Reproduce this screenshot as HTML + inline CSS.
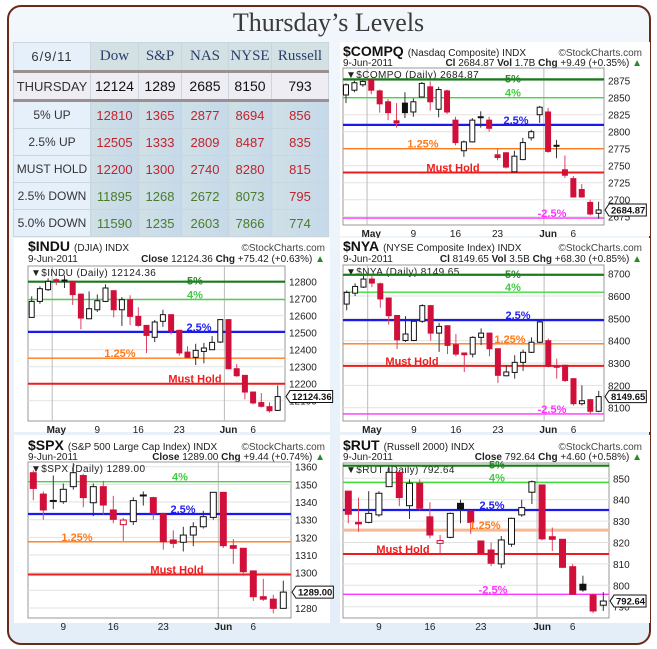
<!DOCTYPE html>
<html><head><meta charset="utf-8">
<style>
body{margin:0;width:657px;height:649px;overflow:hidden;background:#fff;font-family:"Liberation Sans",sans-serif;}
#frame{position:absolute;left:7px;top:5px;width:640px;height:636px;border:2px solid #6a2a1a;border-radius:14px;background:linear-gradient(#f2f7fc,#e4eef8);}
#title{position:absolute;left:0;top:8px;width:657px;text-align:center;font-family:"Liberation Serif",serif;font-size:26px;color:#3a3a3a;}
table{position:absolute;left:13px;top:42px;border-collapse:collapse;font-size:13px;table-layout:fixed;width:315px;}
td{border:1px solid #c9d6de;text-align:center;padding:0;white-space:nowrap;overflow:hidden;}
.lab{background:#e6f0fb;color:#333;font-size:12px;}
.hd td{height:27px;background:#d3e1e4;font-family:"Liberation Serif",serif;font-size:15px;color:#2c3e6a;}
.hd td.lab{background:#e6f0fb;font-family:"Liberation Sans",sans-serif;font-size:13px;color:#333;letter-spacing:1px;}
.th td{height:26px;background:#efedf4;color:#111;font-size:14px;border-top:3px solid #9a9090;border-bottom:3px solid #9a9090;}
.th td.lab{font-size:13px;color:#333;}
.r td{height:26px;background:linear-gradient(90deg,#cfe0e6,#c6d9ea);}
.r td.lab{background:#e6f0fb;}
.red{color:#c0242c;}.grn{color:#4b7b2b;}
#svg{position:absolute;left:0;top:0;}
</style></head>
<body>
<div id="frame"></div>
<svg id="svg" width="657" height="649"></svg>
<div id="title">Thursday’s Levels</div>
<table>
<colgroup><col style="width:77px"><col style="width:48px"><col style="width:43px"><col style="width:47px"><col style="width:43px"><col style="width:57px"></colgroup>
<tr class="hd"><td class="lab">6/9/11</td><td>Dow</td><td>S&amp;P</td><td>NAS</td><td>NYSE</td><td>Russell</td></tr>
<tr class="th"><td class="lab">THURSDAY</td><td>12124</td><td>1289</td><td>2685</td><td>8150</td><td>793</td></tr>
<tr class="r"><td class="lab">5% UP</td><td class="red">12810</td><td class="red">1365</td><td class="red">2877</td><td class="red">8694</td><td class="red">856</td></tr>
<tr class="r"><td class="lab">2.5% UP</td><td class="red">12505</td><td class="red">1333</td><td class="red">2809</td><td class="red">8487</td><td class="red">835</td></tr>
<tr class="r"><td class="lab">MUST HOLD</td><td class="red">12200</td><td class="red">1300</td><td class="red">2740</td><td class="red">8280</td><td class="red">815</td></tr>
<tr class="r"><td class="lab">2.5% DOWN</td><td class="grn">11895</td><td class="grn">1268</td><td class="grn">2672</td><td class="grn">8073</td><td class="red">795</td></tr>
<tr class="r"><td class="lab">5.0% DOWN</td><td class="grn">11590</td><td class="grn">1235</td><td class="grn">2603</td><td class="grn">7866</td><td class="grn">774</td></tr>
</table>
<script>
// ===== DATA =====
const weekLabelsA = ['May','9','16','23','Jun','6'];
const weekIdxA = [3,8,13,18,24,27];
const weekLabelsB = ['9','16','23','Jun','6'];
const weekIdxB = [3,8,13,19,22];

const compqOpen  = [2854,2861,2869,2877,2860,2844,2816,2842,2829,2851,2866,2833,2860,2817,2772,2785,2821,2817,2766,2769,2741,2759,2791,2825,2829,2780,2744,2731,2715,2696,2680];
const compqHigh  = [2871,2875,2876,2878,2862,2848,2842,2858,2849,2873,2874,2866,2862,2822,2787,2820,2830,2822,2775,2770,2772,2791,2803,2838,2835,2788,2765,2735,2723,2700,2697];
const compqLow   = [2842,2858,2866,2855,2828,2817,2806,2820,2822,2850,2831,2821,2826,2780,2763,2784,2806,2800,2758,2746,2741,2758,2787,2813,2769,2761,2732,2704,2703,2677,2672];
const compqClose = [2869,2872,2874,2861,2841,2828,2813,2828,2844,2871,2844,2862,2829,2784,2785,2817,2822,2805,2762,2748,2764,2784,2800,2836,2771,2779,2736,2704,2704,2679,2684.87];
const compqLevels = [2877,2850,2810,2775,2740,2673];
const compqLevelNames = ['5%','4%','2.5%','1.25%','Must Hold','-2.5%'];
const compqTicks = [2675,2700,2725,2750,2775,2800,2825,2850,2875];

const induOpen  = [12590,12684,12753,12812,12810,12802,12727,12582,12635,12684,12747,12635,12694,12596,12543,12473,12567,12606,12514,12386,12355,12390,12400,12445,12577,12288,12249,12151,12089,12065,12043];
const induHigh  = [12714,12773,12820,12820,12837,12804,12730,12743,12725,12784,12750,12710,12720,12650,12545,12575,12635,12608,12518,12420,12435,12440,12480,12580,12580,12315,12250,12150,12145,12090,12190];
const induLow   = [12590,12670,12745,12780,12763,12663,12520,12580,12622,12680,12590,12540,12545,12535,12380,12445,12535,12490,12365,12350,12310,12320,12400,12440,12285,12240,12108,12078,12060,12030,12040];
const induClose = [12684,12759,12802,12802,12805,12724,12586,12641,12688,12763,12635,12694,12596,12543,12484,12563,12606,12512,12381,12355,12396,12410,12443,12577,12288,12247,12151,12087,12067,12041,12124.36];
const induLevels = [12800,12695,12505,12350,12200];
const induLevelNames = ['5%','4%','2.5%','1.25%','Must Hold'];
const induTicks = [12100,12200,12300,12400,12500,12600,12700,12800];

const nyaOpen  = [8564,8613,8640,8676,8655,8591,8513,8401,8401,8487,8557,8434,8467,8382,8345,8340,8415,8434,8364,8243,8258,8303,8348,8393,8400,8287,8290,8230,8118,8136,8084];
const nyaHigh  = [8625,8657,8690,8693,8660,8594,8515,8510,8492,8563,8560,8480,8470,8430,8345,8420,8455,8436,8366,8290,8335,8360,8415,8490,8410,8320,8292,8232,8200,8140,8175];
const nyaLow   = [8536,8600,8636,8640,8548,8472,8363,8395,8398,8480,8400,8350,8340,8330,8260,8325,8380,8330,8210,8240,8230,8265,8345,8390,8280,8230,8215,8110,8110,8070,8080];
const nyaClose = [8616,8643,8676,8658,8587,8512,8404,8430,8487,8557,8434,8464,8379,8340,8337,8415,8434,8364,8245,8260,8303,8348,8393,8484,8285,8281,8222,8118,8131,8084,8149.65];
const nyaLevels = [8695,8617,8492,8386,8287,8072];
const nyaLevelNames = ['5%','4%','2.5%','1.25%','Must Hold','-2.5%'];
const nyaTicks = [8100,8200,8300,8400,8500,8600,8700];

const spxOpen  = [1356.6,1344.5,1340.9,1340.2,1348.7,1355,1339.6,1348.7,1335.5,1327.2,1328.9,1344,1342.5,1333.2,1318.5,1317.2,1321.3,1326,1331.3,1345.5,1315.3,1313.8,1301,1286.4,1285,1279.8];
const spxHigh  = [1358,1346,1355,1350.5,1362,1356,1350.5,1352,1343.5,1331,1342.7,1346,1343,1334,1324,1326,1328.6,1335,1345.5,1345.6,1319,1314,1301,1296.5,1287.5,1295.5];
const spxLow   = [1341,1330,1336,1339,1347,1337,1332,1333,1328,1318,1327,1338,1330,1313,1314,1312,1315,1325,1330,1314,1305,1298,1284,1284,1277,1279.8];
const spxClose = [1347.7,1335.5,1340.5,1347.2,1356.6,1342.5,1348.7,1338.3,1330.2,1329.8,1340.8,1343.6,1333.6,1317.5,1316.6,1321.3,1326,1331.7,1345.5,1315.3,1313.8,1300.6,1286.4,1285,1279.8,1289.0];
const spxLevels = [1351.5,1333.2,1317.5,1299];
const spxLevelNames = ['4%','2.5%','1.25%','Must Hold'];
const spxTicks = [1280,1290,1300,1310,1320,1330,1340,1350,1360];

const rutOpen  = [844,829.4,829.4,832.9,846.1,852.8,837.2,847.7,832,819.6,822.4,838.3,834.7,820.7,816.5,810,819.2,832.9,843.5,846.9,822.7,821.5,808.7,800.5,795.5,790.7];
const rutHigh  = [844,841,844,844,855,853,849.5,849.5,838.8,823.5,834,840,835,820.7,820,823,831.6,840,849,847,827,821.5,810,804.5,796,796.8];
const rutLow   = [829,825,829,832,846,837,831,835,822,815,822,829,824,815,809,808,818,832,838,821,816,808,795.8,797,787,788];
const rutClose = [833.2,828.7,833.6,843,852.8,841,847.7,836,823.5,820.9,833.6,835.7,829.4,815,810.3,821.2,831.3,836.3,848.4,821.7,821.5,808.4,795.8,797.8,788,792.64];
const rutLevels = [855.9,848.1,835.2,825.8,814.6,795.8];
const rutLevelNames = ['5%','4%','2.5%','1.25%','Must Hold','-2.5%'];
const rutTicks = [790,800,810,820,830,840,850];

// ===== DRAWING =====
const NS='http://www.w3.org/2000/svg';
const svg=document.getElementById('svg');
function mk(tag,attrs,parent){const e=document.createElementNS(NS,tag);for(const k in attrs)e.setAttribute(k,attrs[k]);parent.appendChild(e);return e;}
const LC={'5%':'#1a7a1a','4%':'#3ddc3d','2.5%':'#1a1aee','1.25%':'#ff7a1a','Must Hold':'#ee1c1c','-2.5%':'#ff33ff'};
const LT={'5%':'#2a8a2a','4%':'#44cc44','2.5%':'#2222ee','1.25%':'#ff7a1a','Must Hold':'#ee1c1c','-2.5%':'#ff33ff'};
const LW={'5%':2.2,'4%':1.4,'2.5%':2.2,'1.25%':1.4,'Must Hold':2,'-2.5%':1.4};

function drawChart(c){
  const g=mk('g',{},svg);
  
  
  const panel=mk('rect',{x:c.px,y:c.py,width:c.pw,height:c.ph,fill:'#fff'},g);
  
  
  const y=p=>c.yHi+(c.pHi-p)*(c.yLo-c.yHi)/(c.pHi-c.pLo);
  const x=i=>c.x0+i*c.step;
  // header
  const t1=mk('text',{x:c.L,y:c.t1y,'font-size':14,'font-weight':'bold',fill:'#111'},g);
  t1.textContent=c.sym;
  
  
  const sw=t1.getComputedTextLength();
  const t1b=mk('text',{x:c.L+sw+4,y:c.t1y,'font-size':10,fill:'#222'},g);
  t1b.textContent=c.desc;
  
  
  const sc=mk('text',{x:c.R+c.axW,y:c.t1y,'font-size':10,fill:'#444','text-anchor':'end'},g);
  sc.textContent='©StockCharts.com';
  
  
  const d=mk('text',{x:c.L,y:c.t2y,'font-size':10,fill:'#222'},g);
  d.textContent='9-Jun-2011';
  
  
  const st=mk('text',{x:c.R+c.axW,y:c.t2y,'font-size':10,fill:'#222','text-anchor':'end'},g);
  st.innerHTML=c.stats+' <tspan fill="#2a8a2a">▲</tspan>';
  
  
  // plot
  const pl=mk('rect',{x:c.L,y:c.T,width:c.R-c.L,height:c.B-c.T,fill:'#fff',stroke:'#999','stroke-width':1},g);
  
  
  c.ticks.forEach(v=>{
    const ty=y(v);
    const gl=mk('line',{x1:c.L,x2:c.R,y1:ty,y2:ty,stroke:'#e2e2e2','stroke-width':1},g);
    
    
    const tl=mk('text',{x:c.R+4,y:ty+4,'font-size':10,fill:'#222'},g);
    tl.textContent=v;
    
    
  });
  c.xIdx.forEach((ix,k)=>{
    const lab=c.xLab[k];
    if(lab==='May'||lab==='Jun'){
      const vl=mk('line',{x1:x(ix)-c.step/2,x2:x(ix)-c.step/2,y1:c.T,y2:c.B,stroke:'#bbb','stroke-width':1},g);
      
      
    }
    const xl=mk('text',{x:x(ix),y:c.B+12,'font-size':10,fill:'#222','text-anchor':'middle','font-weight':(lab==='May'||lab==='Jun')?'bold':'normal'},g);
    xl.textContent=lab;
    
    
  });
  const il=mk('text',{x:c.L+3,y:c.T+10,'font-size':10,fill:'#222','letter-spacing':'0.4'},g);
  il.textContent='▼'+c.sym+' (Daily) '+c.close[c.close.length-1].toFixed(2);
  
  
  const clipId='clip-'+c.name;
  const cp=mk('clipPath',{id:clipId},g);mk('rect',{x:c.L,y:c.T,width:c.R-c.L,height:c.B-c.T},cp);
  const cg=mk('g',{'clip-path':'url(#'+clipId+')'},g);
  // levels
  c.levels.forEach((v,k)=>{
    const nm=c.levelNames[k];const ly=y(v);
    let col=LC[nm];if(c.name==='rut'&&nm==='1.25%')col='#f8b892';
    const ln=mk('line',{x1:c.L,x2:c.R,y1:ly,y2:ly,stroke:col,'stroke-width':(c.name==='rut'&&nm==='1.25%')?3:LW[nm]},cg);
    
    
  });
  // candles
  const bw=c.bw;
  for(let i=0;i<c.close.length;i++){
    const o=c.open[i],h=c.high[i],l=c.low[i],cl=c.close[i];
    const prev=i>0?c.close[i-1]:o;
    let fill,stroke;
    if(cl>=o){fill='#fff';stroke=cl<prev?'#d0103a':'#111';}
    else if(cl>prev){fill='#111';stroke='#111';}
    else {fill='#d0103a';stroke='#d0103a';}
    const cx=x(i);
    const wk=mk('line',{x1:cx,x2:cx,y1:y(h),y2:y(l),stroke:stroke==='#111'?'#333':'#e04060','stroke-width':1},cg);
    
    
    const top=y(Math.max(o,cl)),bot=y(Math.min(o,cl));
    const bd=mk('rect',{x:cx-bw/2,y:top,width:bw,height:Math.max(1,bot-top),fill:fill,stroke:stroke,'stroke-width':1},cg);
    
    
  }
  // level labels
  c.levels.forEach((v,k)=>{
    const nm=c.levelNames[k];
    const lt=mk('text',{x:c.lx[k],y:y(v)+(k===0&&nm==='5%'?3:-1),'font-size':11,'font-weight':'bold',fill:LT[nm],'text-anchor':'middle'},g);
    lt.textContent=nm;
    
    
  });
  // price tag
  const last=c.close[c.close.length-1],py=y(last);
  const pg=mk('polygon',{points:'0,0'},g);
  
  
  const pt=mk('text',{x:c.R+7,y:py+3.5,'font-size':9.5,'font-weight':'bold',fill:'#111'},g);
  pt.textContent=last.toFixed(2);
  
  
  const tw=pt.getComputedTextLength()+3;
  pg.setAttribute('points',`${c.R+1},${py} ${c.R+5},${py-6} ${c.R+5+tw},${py-6} ${c.R+5+tw},${py+6} ${c.R+5},${py+6}`);
  pg.setAttribute('fill','#fff');pg.setAttribute('stroke','#111');pg.setAttribute('stroke-width','1');
}

drawChart({name:'compq',sym:'$COMPQ',desc:'(Nasdaq Composite)  INDX',stats:'<tspan font-weight="bold">Cl</tspan> 2684.87  <tspan font-weight="bold">Vol</tspan> 1.7B  <tspan font-weight="bold">Chg</tspan> +9.49 (+0.35%)',
  px:340,py:42,pw:310,ph:194,L:343,R:604,T:68,B:225,axW:38,t1y:56,t2y:66,x0:346,step:8.42,bw:5,
  pHi:2875,yHi:80.7,pLo:2675,yLo:216.7,open:compqOpen,high:compqHigh,low:compqLow,close:compqClose,
  levels:compqLevels,levelNames:compqLevelNames,lx:[513,513,516,423,453,552],ticks:compqTicks,xIdx:weekIdxA,xLab:weekLabelsA});
drawChart({name:'indu',sym:'$INDU',desc:'(DJIA)  INDX',stats:'<tspan font-weight="bold">Close</tspan> 12124.36  <tspan font-weight="bold">Chg</tspan> +75.42 (+0.63%)',
  px:14,py:238,pw:316,ph:194,L:28,R:285,T:266,B:421,axW:40,t1y:251,t2y:262,x0:31.7,step:8.2,bw:5,
  pHi:12800,yHi:281.7,pLo:12200,yLo:383.7,open:induOpen,high:induHigh,low:induLow,close:induClose,
  levels:induLevels,levelNames:induLevelNames,lx:[195,195,199,120,195],ticks:induTicks,xIdx:weekIdxA,xLab:weekLabelsA});
drawChart({name:'nya',sym:'$NYA',desc:'(NYSE Composite Index)  INDX',stats:'<tspan font-weight="bold">Cl</tspan> 8149.65  <tspan font-weight="bold">Vol</tspan> 3.5B  <tspan font-weight="bold">Chg</tspan> +68.30 (+0.85%)',
  px:340,py:238,pw:310,ph:194,L:343,R:604,T:265,B:421,axW:38,t1y:251,t2y:262,x0:346.7,step:8.4,bw:5,
  pHi:8700,yHi:273.7,pLo:8100,yLo:407.7,open:nyaOpen,high:nyaHigh,low:nyaLow,close:nyaClose,
  levels:nyaLevels,levelNames:nyaLevelNames,lx:[513,513,518,510,412,552],ticks:nyaTicks,xIdx:weekIdxA,xLab:weekLabelsA});
drawChart({name:'spx',sym:'$SPX',desc:'(S&P 500 Large Cap Index)  INDX',stats:'<tspan font-weight="bold">Close</tspan> 1289.00  <tspan font-weight="bold">Chg</tspan> +9.44 (+0.74%)',
  px:14,py:435,pw:316,ph:188,L:28,R:291,T:462,B:618,axW:34,t1y:450,t2y:460,x0:33.3,step:10,bw:6,
  pHi:1360,yHi:466.7,pLo:1280,yLo:608,open:spxOpen,high:spxHigh,low:spxLow,close:spxClose,
  levels:spxLevels,levelNames:spxLevelNames,lx:[180,183,77,177],ticks:spxTicks,xIdx:weekIdxB,xLab:weekLabelsB});
drawChart({name:'rut',sym:'$RUT',desc:'(Russell 2000)  INDX',stats:'<tspan font-weight="bold">Close</tspan> 792.64  <tspan font-weight="bold">Chg</tspan> +4.60 (+0.58%)',
  px:340,py:435,pw:310,ph:188,L:343,R:609,T:463,B:618,axW:33,t1y:450,t2y:460,x0:348.3,step:10.2,bw:6,
  pHi:850,yHi:478.3,pLo:790,yLo:606.7,open:rutOpen,high:rutHigh,low:rutLow,close:rutClose,
  levels:rutLevels,levelNames:rutLevelNames,lx:[497,497,492,485,403,493],ticks:rutTicks,xIdx:weekIdxB,xLab:weekLabelsB});
</script>
</body></html>
